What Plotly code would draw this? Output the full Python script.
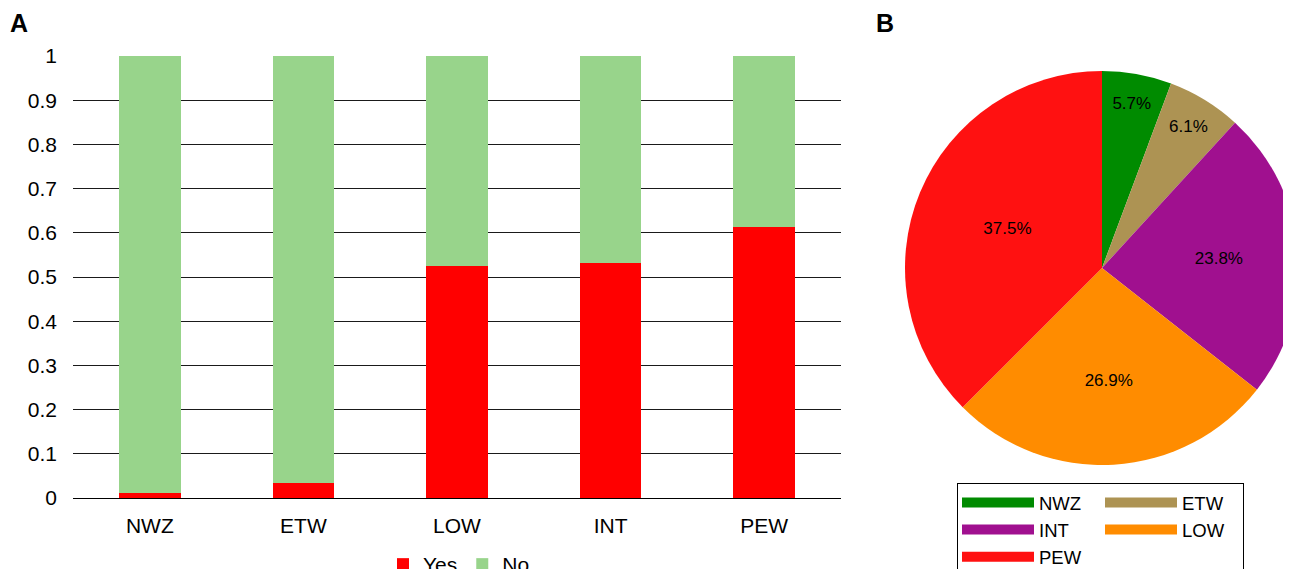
import plotly.graph_objects as go

# ---------------- data ----------------
regions = ["NWZ", "ETW", "LOW", "INT", "PEW"]
yes_share = [0.011, 0.034, 0.525, 0.532, 0.613]
no_share = [0.989, 0.966, 0.475, 0.468, 0.387]
ytick_vals = [0, 0.1, 0.2, 0.3, 0.4, 0.5, 0.6, 0.7, 0.8, 0.9, 1]
ytick_text = ["0", "0.1", "0.2", "0.3", "0.4", "0.5", "0.6", "0.7", "0.8", "0.9", "1"]

pie_labels = ["NWZ", "ETW", "INT", "LOW", "PEW"]
pie_values = [5.7, 6.1, 23.8, 26.9, 37.5]
pie_colors = ["#008b00", "#ad9353", "#a0108f", "#ff8c00", "#ff1111"]
legend_column = ["col1", "col2", "col1", "col2", "col1"]

# ---------------- layout helpers ----------------
# the page body adds an 8px offset, so figure pixels = page pixels - 8
OFF = 8
W, H = 1291, 569
ML, MR, MT, MB = 73 - OFF, 0, 56 - OFF, H - (498 - OFF)
GW = W - ML - MR
GH = H - MT - MB
FONT = "Liberation Sans, Arial, Helvetica, sans-serif"


def px_x(px):
    """page pixel x -> paper coordinate"""
    return (px - OFF - ML) / GW


def px_y(py):
    """page pixel y -> paper coordinate"""
    return (H - MB - (py - OFF)) / GH


fig = go.Figure()

fig.add_trace(go.Bar(x=regions, y=yes_share, name="Yes", marker_color="#ff0000",
                     marker_line_width=0, width=0.4, legend="legend"))
fig.add_trace(go.Bar(x=regions, y=no_share, name="No", marker_color="#98d48b",
                     marker_line_width=0, width=0.4, legend="legend"))

fig.add_trace(go.Pie(
    labels=pie_labels, values=pie_values, sort=False, direction="clockwise", rotation=0,
    marker=dict(colors=pie_colors, line=dict(width=0)),
    texttemplate="%{percent:.1%}", textposition="inside", insidetextorientation="horizontal",
    textfont=dict(size=17, color="black", family=FONT),
    domain=dict(x=[px_x(905), 1], y=[px_y(465), px_y(71)]),
    showlegend=False,
))

# legend entries for the pie (two columns)
for lab, col, grp in zip(pie_labels, pie_colors, legend_column):
    fig.add_trace(go.Scatter(x=[None], y=[None], mode="lines", name=lab,
                             line=dict(color=col, width=19), legend="legend2",
                             legendgroup=grp, hoverinfo="skip"))

fig.update_layout(
    width=W, height=H,
    margin=dict(l=ML, r=MR, t=MT, b=MB, autoexpand=False),
    paper_bgcolor="white", plot_bgcolor="white",
    font=dict(family=FONT, size=21, color="black"),
    barmode="stack", bargap=0.6,
    xaxis=dict(domain=[0, px_x(841)], showline=True, linecolor="black", linewidth=1,
               showgrid=False, ticks="", tickfont=dict(size=21), ticklabelstandoff=9,
               fixedrange=True),
    yaxis=dict(range=[0, 1], tickvals=ytick_vals, ticktext=ytick_text, showgrid=True,
               gridcolor="#1a1a1a", gridwidth=1, zeroline=False, showline=False,
               ticks="", ticklabelstandoff=15, tickfont=dict(size=21)),
    legend=dict(orientation="h", traceorder="normal", x=px_x(459), xanchor="center",
                y=px_y(544), yanchor="top", font=dict(size=21), bgcolor="rgba(0,0,0,0)"),
    legend2=dict(orientation="h", traceorder="grouped", x=px_x(957), xanchor="left",
                 y=px_y(483), yanchor="top", bordercolor="black", borderwidth=1,
                 bgcolor="white", font=dict(size=18.5), itemwidth=72, entrywidth=56,
                 tracegroupgap=0),
    annotations=[
        dict(text="<b>A</b>", xref="paper", yref="paper", x=px_x(8), y=px_y(23),
             xanchor="left", yanchor="middle", showarrow=False, font=dict(size=25)),
        dict(text="<b>B</b>", xref="paper", yref="paper", x=px_x(874), y=px_y(23),
             xanchor="left", yanchor="middle", showarrow=False, font=dict(size=25)),
    ],
)

fig.write_html("out.html")
